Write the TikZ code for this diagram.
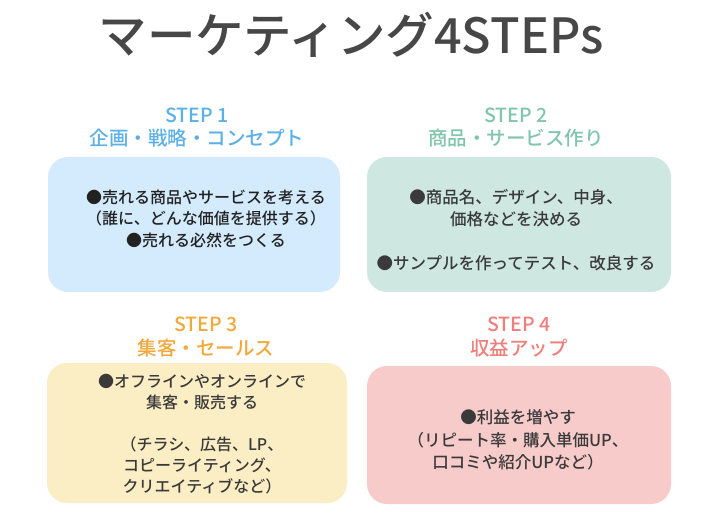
\documentclass[tikz,border=0pt]{standalone}
\usepackage{fontspec}
\setmainfont{Noto Sans CJK JP}
\newfontfamily\jp{Noto Sans CJK JP}
\newfontfamily\jpm{Noto Sans CJK JP Medium}
\definecolor{titlec}{HTML}{474747}
\definecolor{bodyc}{HTML}{3A3A3A}
\definecolor{bodyk}{HTML}{222222}
\definecolor{hblue}{HTML}{5BB0E8}
\definecolor{fblue}{HTML}{D3EBFC}
\definecolor{hteal}{HTML}{80C6AD}
\definecolor{fteal}{HTML}{CFE7E1}
\definecolor{horange}{HTML}{F2A83B}
\definecolor{forange}{HTML}{FCEEC4}
\definecolor{hpink}{HTML}{EF7F7B}
\definecolor{fpink}{HTML}{F8CBCB}
\tikzset{
  panel/.style={rounded corners=20pt, draw=none},
  heading/.style={align=center, inner sep=0pt, font=\jpm\fontsize{19.5}{23.5}\selectfont},
  bodytext/.style={align=center, inner sep=0pt, text=bodyc},
}
\begin{document}
\begin{tikzpicture}[x=1pt,y=-1pt]
\useasboundingbox[fill=white] (0,0) rectangle (706,526);
\node[inner sep=0pt, anchor=base, text=titlec, font=\jpm\fontsize{48.5}{52}\selectfont] (title) at (351,54) {マーケティング4STEPs};

\fill[panel, fblue] (48,157) rectangle (340,292);
\fill[panel, fteal] (367,157) rectangle (671,292);
\fill[panel, forange] (47,363) rectangle (347,503);
\fill[panel, fpink] (367,366) rectangle (671,504);

\node[heading, text=hblue] (h1) at (197,127.5) {STEP 1\\企画・戦略・コンセプト};
\node[heading, text=hteal] (h2) at (516,127.5) {STEP 2\\商品・サービス作り};
\node[heading, text=horange] (h3) at (206,337) {STEP 3\\集客・セールス};
\node[heading, text=hpink] (h4) at (519,337) {STEP 4\\収益アップ};

\node[bodytext, text=bodyk, font=\jpm\fontsize{16}{21.5}\selectfont] (b1) at (206,218.5)
  {●売れる商品やサービスを考える\\（誰に、どんな価値を提供する）\\●売れる必然をつくる};
\node[bodytext, font=\jpm\fontsize{16.5}{22}\selectfont] (b2) at (516,230)
  {●商品名、デザイン、中身、\\価格などを決める\\[22pt]●サンプルを作ってテスト、改良する};
\node[bodytext, font=\jpm\fontsize{16}{21}\selectfont] (b3) at (202,434.5)
  {●オフラインやオンラインで\\集客・販売する\\[21pt]（チラシ、広告、LP、\\コピーライティング、\\クリエイティブなど）};
\node[bodytext, font=\jpm\fontsize{16.5}{22.5}\selectfont] (b4) at (518,440)
  {●利益を増やす\\（リピート率・購入単価UP、\\口コミや紹介UPなど）};
\end{tikzpicture}
\end{document}
